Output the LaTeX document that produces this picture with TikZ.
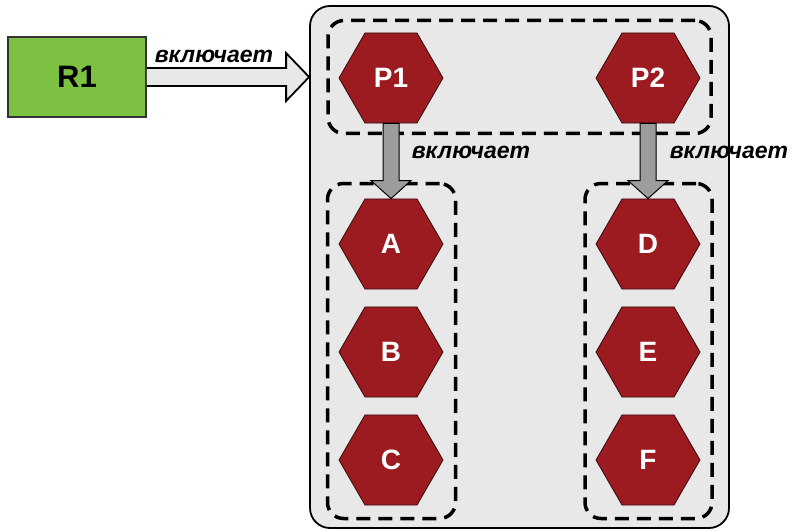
\documentclass[tikz,border=0pt]{standalone}
\usepackage{fontspec}
\setmainfont{Liberation Sans}
\usetikzlibrary{shapes.geometric, positioning, calc}
\definecolor{rgreen}{HTML}{7DC142}
\definecolor{hexred}{HTML}{9B1B20}
\definecolor{hexline}{HTML}{3A0A0A}
\definecolor{boxgray}{HTML}{E8E8E8}
\definecolor{arrgray}{HTML}{9C9C9C}

\tikzset{
    proc/.style={regular polygon, regular polygon sides=6, minimum size=104pt, inner sep=0pt,
        fill=hexred, draw=hexline, line width=0.8pt, text=white,
        font=\fontsize{28}{28}\selectfont\bfseries},
    grp/.style={draw, rounded corners=16pt, line width=3.5pt, dash pattern=on 14pt off 8pt},
    lbl/.style={font=\fontsize{23}{23}\selectfont\bfseries\itshape},
}

\begin{document}
\begin{tikzpicture}[x=1pt, y=-1pt]
        \useasboundingbox (0,0) rectangle (792,532);

        \node[draw, fill=boxgray, rounded corners=20pt, line width=1.8pt,
            minimum width=419pt, minimum height=522pt] (sys) at (519.5,267) {}; % system
        \node[draw=black!80, fill=rgreen, line width=1.5pt, minimum width=138pt, minimum height=80pt,
            font=\fontsize{31}{31}\selectfont\bfseries] (R1) at (77,77) {R1}; % R1

        % groups
        \node[grp, minimum width=383pt, minimum height=113pt] (top) at (519.5,77) {};
        \node[grp, minimum width=128pt, minimum height=335pt] (left) at (391.5,351) {};
        \node[grp, minimum width=127pt, minimum height=335pt] (right) at (648.5,351) {};

        % processes
        \node[proc] (P1) at (391,78) {P1}; % P1
        \node[proc] (P2) at (648,78) {P2}; % P2
        \node[proc] (A) at (391,244) {A}; % A
        \node[proc] (B) at (391,352) {B}; % B
        \node[proc] (C) at (391,460) {C}; % C
        \node[proc] (D) at (648,244) {D}; % D
        \node[proc] (E) at (648,352) {E}; % E
        \node[proc] (F) at (648,460) {F}; % F

        % R1 -> top
        \coordinate (tip) at (sys.west |- R1.east);
        \draw[fill=boxgray, line width=1.8pt, line join=miter]
            ($(R1.east)+(0,-9)$) -- ($(tip)+(-23,-9)$) -- ($(tip)+(-23,-24)$) -- (tip)
            -- ($(tip)+(-23,24)$) -- ($(tip)+(-23,9)$) -- ($(R1.east)+(0,9)$);

        % P1 -> left, P2 -> right
        \draw[fill=arrgray, line width=1pt]
            ($(P1.south)+(-8,0)$) -- ($(A.north)+(-8,-18)$) -- ($(A.north)+(-20,-18)$) -- (A.north)
            -- ($(A.north)+(20,-18)$) -- ($(A.north)+(8,-18)$) -- ($(P1.south)+(8,0)$) -- cycle;
        \draw[fill=arrgray, line width=1pt]
            ($(P2.south)+(-8,0)$) -- ($(D.north)+(-8,-18)$) -- ($(D.north)+(-20,-18)$) -- (D.north)
            -- ($(D.north)+(20,-18)$) -- ($(D.north)+(8,-18)$) -- ($(P2.south)+(8,0)$) -- cycle;

        % labels
        \node[lbl] (inc1) at (214,56) {включает};
        \node[lbl] (inc2) at (471,152) {включает};
        \node[lbl] (inc3) at (729,152) {включает};
\end{tikzpicture}
\end{document}
